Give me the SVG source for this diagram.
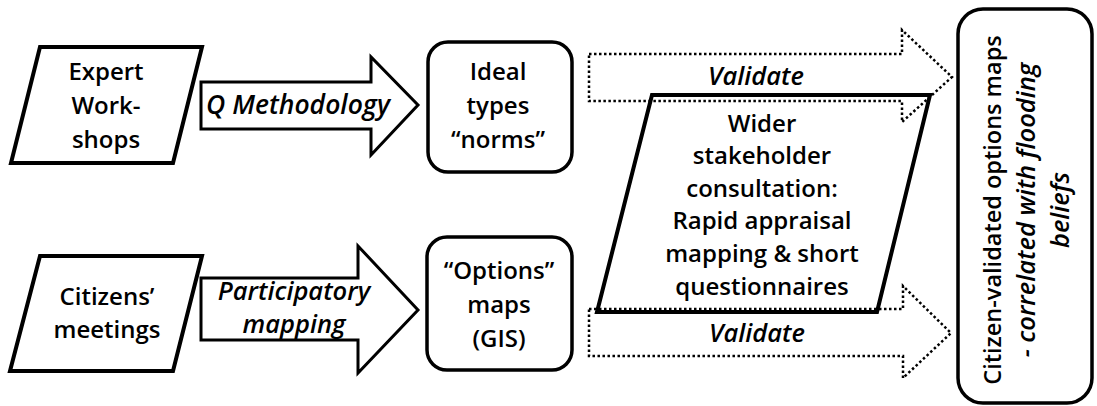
<svg xmlns="http://www.w3.org/2000/svg" width="1097" height="406" viewBox="0 0 1097 406">
<style>
.t{font-family:"Open Sans","Liberation Sans",sans-serif;font-weight:600;font-size:24px;fill:#000;text-anchor:middle}
.i{font-style:italic;font-size:25.5px}
.para{fill:#fff;stroke:#000;stroke-width:4;stroke-linejoin:miter}
.box{fill:#fff;stroke:#000;stroke-width:3.5}
.arr{fill:#fff;stroke:#000;stroke-width:3;stroke-linejoin:miter}
.dot{fill:none;stroke:#000;stroke-width:2.5;stroke-dasharray:2.5 2.5}
</style>
<rect width="1097" height="406" fill="#fff"/>
<g id="expert">
<polygon class="para" points="40,47 202,47 173,163 11,163"/>
<text class="t" x="106" y="80">Expert</text>
<text class="t" x="106" y="114">Work-</text>
<text class="t" x="106" y="148">shops</text>
</g>
<g id="citizens">
<polygon class="para" points="40,256 202,256 173,371 10,371"/>
<text class="t" x="107" y="305">Citizens’</text>
<text class="t" x="107" y="338">meetings</text>
</g>
<g id="ideal">
<rect class="box" x="428" y="42" width="144" height="130" rx="20"/>
<text class="t" x="498" y="80">Ideal</text>
<text class="t" x="498" y="114">types</text>
<text class="t" x="498" y="148">“norms”</text>
</g>
<g id="options">
<rect class="box" x="427" y="237" width="145" height="133" rx="20"/>
<text class="t" x="499" y="279">“Options”</text>
<text class="t" x="499" y="313">maps</text>
<text class="t" x="499" y="347">(GIS)</text>
</g>
<g id="wider">
<polygon class="para" points="652,95 930,95 877,312 597,312"/>
<text class="t" x="762" y="132">Wider</text>
<text class="t" x="762" y="164">stakeholder</text>
<text class="t" x="762" y="197">consultation:</text>
<text class="t" x="762" y="229">Rapid appraisal</text>
<text class="t" x="762" y="262">mapping &amp; short</text>
<text class="t" x="762" y="295">questionnaires</text>
</g>
<g id="result">
<rect class="box" x="958" y="9" width="134" height="394" rx="25"/>
<g transform="translate(0,210) rotate(-90)">
<text class="t" x="0" y="1001" style="font-size:23.5px">Citizen-validated options maps</text>
<text class="t i" x="0" y="1035">- correlated with flooding</text>
<text class="t i" x="0" y="1069">beliefs</text>
</g>
</g>
<g id="connectors">
<polygon class="arr" points="201,82 371,82 371,57 418,105 371,155 371,129 201,129"/>
<text class="t i" x="298" y="114" style="font-size:26.5px">Q Methodology</text>
<polygon class="arr" points="201,278 358,278 358,246 418,310 358,373 358,340 201,340"/>
<text class="t i" x="294" y="300">Participatory</text>
<text class="t i" x="294" y="333">mapping</text>
<polygon class="dot" points="589,54 902,54 902,30 952,77 902,122 902,101 589,101"/>
<text class="t i" x="756" y="85">Validate</text>
<polygon class="dot" points="589,309 903,309 903,286 951,333 903,378 903,356 589,356"/>
<text class="t i" x="757" y="342">Validate</text>
</g>
</svg>
